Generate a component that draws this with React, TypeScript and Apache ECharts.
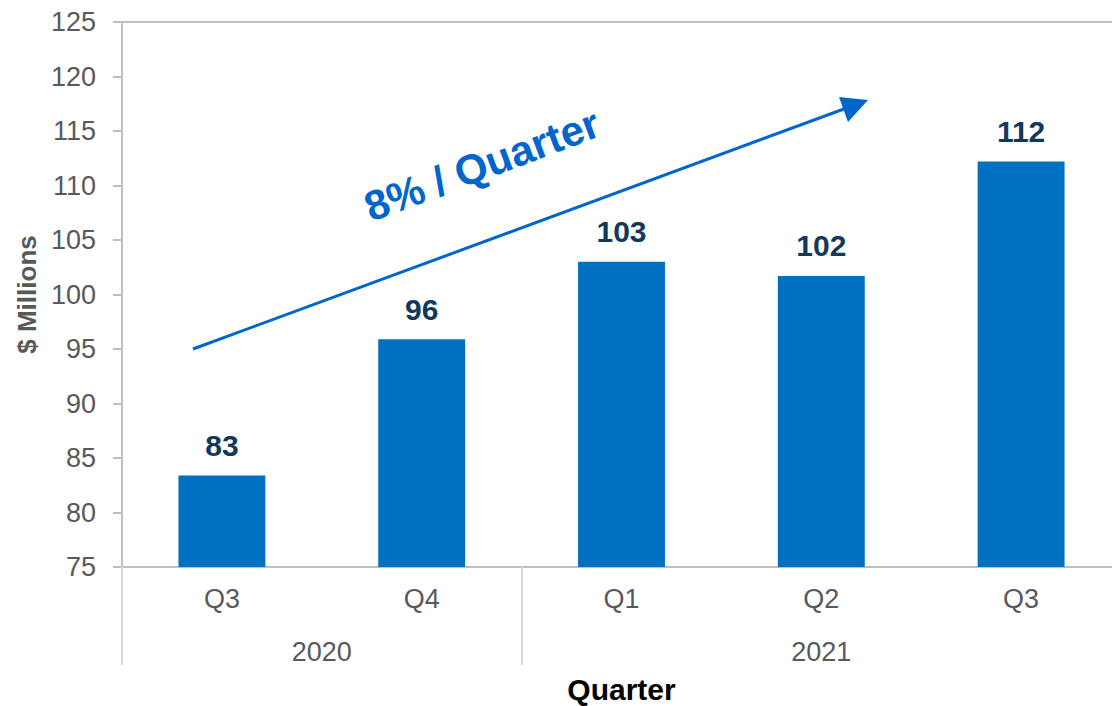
import React, { useEffect, useRef } from "react";
import * as echarts from "echarts";

const quarters = ["Q3", "Q4", "Q1", "Q2", "Q3"];
const revenue = [83.4, 95.9, 103.0, 101.7, 112.2];
const yearLabels = ["2020", "2021"];
const yearCenters = [1, 3.5];
const yearBounds = [0, 2, 5];
const yTicks = { min: 75, max: 125, interval: 5 };

const FONT = "'Liberation Sans', Arial, sans-serif";
const GRAY = "#595959";

export default function App() {
  const ref = useRef<HTMLDivElement>(null);
  useEffect(() => {
    if (!ref.current) return;
    const chart = echarts.init(ref.current, null, { renderer: "svg" });
    chart.setOption({
      animation: false,
      textStyle: { fontFamily: FONT },
      grid: {
        left: 122,
        right: -9,
        top: 22,
        bottom: 139,
        containLabel: false,
        outerBoundsMode: "none",
      },
      xAxis: [
        {
          type: "category",
          data: quarters,
          position: "bottom",
          axisLine: { show: true, lineStyle: { color: "#bfbfbf", width: 2 } },
          axisTick: { show: false },
          axisLabel: { fontSize: 27, color: GRAY, margin: 18, fontFamily: FONT },
          splitLine: { show: false },
        },
        {
          type: "value",
          min: 0,
          max: 5,
          position: "bottom",
          offset: 98,
          axisLine: { show: false },
          axisTick: {
            show: true,
            inside: true,
            length: 98,
            customValues: yearBounds,
            lineStyle: { color: "#d9d9d9", width: 2 },
          },
          axisLabel: {
            show: true,
            inside: true,
            margin: 0,
            customValues: yearCenters,
            formatter: (v: number) => yearLabels[yearCenters.indexOf(v)] ?? "",
            fontSize: 27,
            color: GRAY,
            fontFamily: FONT,
          },
          splitLine: { show: false },
          name: "Quarter",
          nameLocation: "middle",
          nameGap: 9,
          nameTextStyle: { fontSize: 30, fontWeight: "bold", color: "#000", fontFamily: FONT },
        },
        {
          type: "category",
          data: quarters,
          position: "top",
          axisLine: { show: true, lineStyle: { color: "#bfbfbf", width: 2 } },
          axisTick: { show: false },
          axisLabel: { show: false },
        },
      ],
      yAxis: {
        type: "value",
        min: yTicks.min,
        max: yTicks.max,
        interval: yTicks.interval,
        axisLine: { show: true, lineStyle: { color: "#bfbfbf", width: 2 } },
        axisTick: { show: true, length: 9, lineStyle: { color: "#bfbfbf", width: 2 } },
        axisLabel: { fontSize: 27, color: GRAY, margin: 26, fontFamily: FONT },
        splitLine: { show: false },
        name: "$ Millions",
        nameLocation: "middle",
        nameGap: 78,
        nameTextStyle: { fontSize: 26, fontWeight: "bold", color: GRAY, fontFamily: FONT },
      },
      series: [
        {
          type: "bar",
          xAxisIndex: 0,
          data: revenue,
          barWidth: "43.5%",
          itemStyle: { color: "#0070C0" },
          label: {
            show: true,
            position: "top",
            distance: 15,
            formatter: (p: any) => String(Math.round(p.value)),
            fontSize: 30,
            fontWeight: "bold",
            color: "#12395B",
            fontFamily: FONT,
          },
        },
      ],
      graphic: [
        {
          type: "line",
          shape: { x1: 193, y1: 349, x2: 852, y2: 106 },
          style: { stroke: "#0066CC", lineWidth: 3 },
        },
        {
          type: "polygon",
          shape: { points: [[868, 100], [839, 97], [848, 122]] },
          style: { fill: "#0066CC" },
        },
        {
          type: "text",
          x: 482,
          y: 165,
          rotation: 0.36,
          style: {
            text: "8% / Quarter",
            fontSize: 42,
            fontWeight: "bold",
            fill: "#0066CC",
            fontFamily: FONT,
            align: "center",
            verticalAlign: "middle",
          },
        },
      ],
    });
    return () => chart.dispose();
  }, []);
  return (
    <div
      ref={ref}
      style={{ position: "absolute", left: 0, top: 0, width: 1112, height: 706, background: "#fff" }}
    />
  );
}
